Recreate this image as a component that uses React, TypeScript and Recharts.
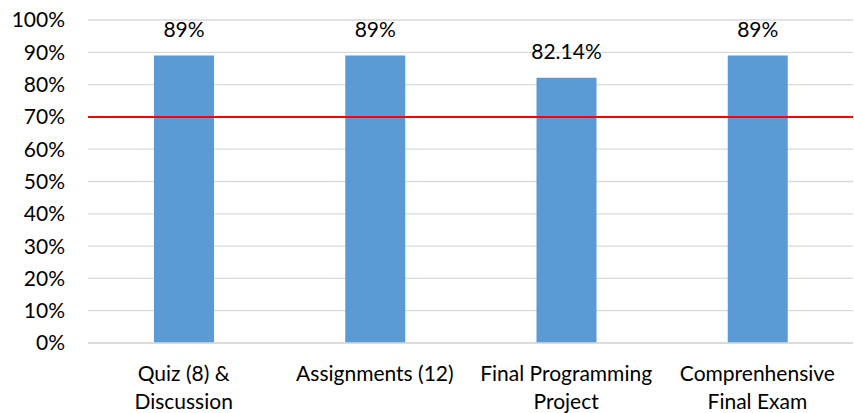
import { BarChart, Bar, XAxis, YAxis, CartesianGrid, ReferenceLine, LabelList } from 'recharts'

const categories = ['Quiz (8) &\nDiscussion', 'Assignments (12)', 'Final Programming\nProject', 'Comprenhensive\nFinal Exam']
const scores = [89, 89, 82.14, 89]
const yTicks = [0, 10, 20, 30, 40, 50, 60, 70, 80, 90, 100]
const passMark = 70

const FONT = 'Lato, "Open Sans", sans-serif'
const FONT_SIZE = 21

const data = categories.map((name, i) => ({ name, score: scores[i] }))

function CategoryTick({ x, y, payload }: any) {
  const lines = String(payload.value).split('\n')
  return (
    <text x={x} y={y} textAnchor="middle" fontFamily={FONT} fontSize={FONT_SIZE} fill="#000">
      {lines.map((line, i) => (
        <tspan key={i} x={x} dy={i === 0 ? 36 : 28}>
          {line}
        </tspan>
      ))}
    </text>
  )
}

export default function App() {
  return (
    <div style={{ position: 'absolute', left: 0, top: 0, background: '#fff' }}>
      <BarChart
        width={854}
        height={413}
        data={data}
        margin={{ top: 20, right: 1, bottom: 0, left: 0 }}
      >
        <CartesianGrid vertical={false} stroke="#d9d9d9" strokeWidth={1.3} />
        <XAxis
          dataKey="name"
          tickLine={false}
          axisLine={{ stroke: '#d9d9d9', strokeWidth: 1.3 }}
          tick={<CategoryTick />}
          tickSize={0}
          interval={0}
          height={70}
        />
        <YAxis
          domain={[0, 100]}
          ticks={yTicks}
          interval={0}
          width={88}
          axisLine={false}
          tickLine={false}
          tickSize={0}
          tickMargin={23}
          tickFormatter={(v: number) => `${v}%`}
          tick={{ fontFamily: FONT, fontSize: FONT_SIZE, fill: '#000' }}
        />
        <Bar dataKey="score" fill="#5b9bd5" barSize={60} isAnimationActive={false}>
          <LabelList
            dataKey="score"
            position="top"
            offset={19}
            formatter={(v: any) => `${v}%`}
            style={{ fontFamily: FONT, fontSize: FONT_SIZE, fill: '#000' }}
          />
        </Bar>
        <ReferenceLine y={passMark} stroke="#ff0000" strokeWidth={2} ifOverflow="extendDomain" />
      </BarChart>
    </div>
  )
}
